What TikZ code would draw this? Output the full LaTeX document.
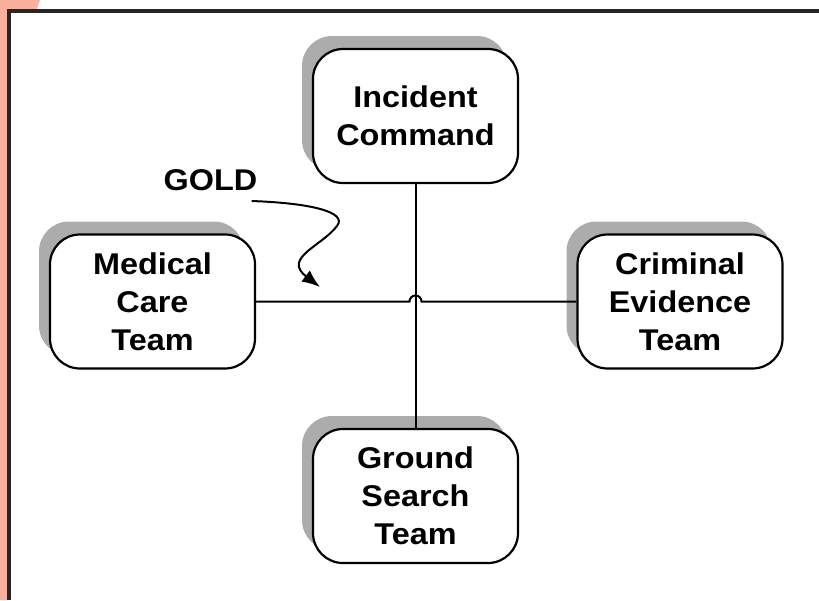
\documentclass[tikz,border=0pt]{standalone}
\usepackage{fontspec}
\setmainfont{Liberation Sans}[FakeStretch=1.08]
\usetikzlibrary{arrows.meta,positioning,calc,shadows}
\definecolor{FrameColor}{RGB}{38,38,38}
\definecolor{TabColor}{RGB}{249,176,157}
\definecolor{ShadowColor}{RGB}{172,172,172}
\tikzset{
  teambox/.style={draw=black, line width=1.1pt, rounded corners=15pt, fill=white,
    minimum width=102.5pt, minimum height=67pt, align=center,
    font=\fontsize{15}{19}\selectfont\bfseries,
    drop shadow={shadow xshift=-5.5pt, shadow yshift=6.5pt, fill=ShadowColor, opacity=1}},
  goldlabel/.style={inner sep=0pt, font=\fontsize{15}{19}\selectfont\bfseries},
  link/.style={line width=1pt},
}

\begin{document}
\begin{tikzpicture}[x=0.5pt, y=-0.5pt, >=Latex]
      \useasboundingbox (0,0) rectangle (819,600);
      % frame
      \fill[TabColor] (0,0) -- (40,0) -- (36,11) -- (7,11) -- (7,600) -- (0,600) -- cycle;
      \draw[FrameColor, line width=2pt] (9,600) -- (9,11) -- (819,11);
      % teams
      \node[teambox] (ic) at (415.5,116) {Incident\\Command};
      \node[teambox] (mc) at (152.5,301.5) {Medical\\Care\\Team};
      \node[teambox] (ce) at (680,301.5) {Criminal\\Evidence\\Team};
      \node[teambox] (gs) at (415.5,496) {Ground\\Search\\Team};
      \node[goldlabel] (gold) at (210.5,180) {GOLD};
      \coordinate (goldtip) at (320,287);
      % links
      \draw[link] (ic) -- (gs);
      \draw[link] (mc) -- ($(ic.south |- mc.east)+(-6,0)$) arc[start angle=180, end angle=360, radius=6] -- (ce);
      \draw[link, -{Latex[length=9pt,width=7pt]}] ([shift={(-6,10)}]gold.south east)
        .. controls (310,203) and (348,212) .. (337,226)
        .. controls (322,246) and (282,258) .. (goldtip);
    \end{tikzpicture}
\end{document}
